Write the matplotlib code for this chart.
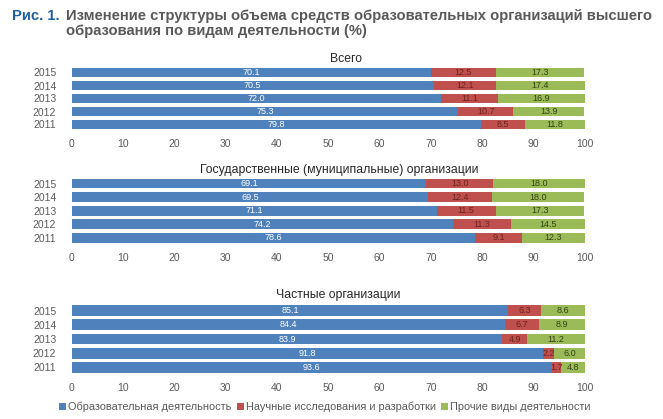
import numpy as np
import matplotlib
matplotlib.use('Agg')
import matplotlib.pyplot as plt

plt.rcParams['font.family'] = ['Liberation Sans', 'DejaVu Sans']

# Данные (по годам 2011..2015)
years = ['2011', '2012', '2013', '2014', '2015']
series_names = ['Образовательная деятельность', 'Научные исследования и разработки',
                'Прочие виды деятельности']

all_edu = [79.8, 75.3, 72.0, 70.5, 70.1]
all_sci = [8.5, 10.7, 11.1, 12.1, 12.5]
all_oth = [11.8, 13.9, 16.9, 17.4, 17.3]

gov_edu = [78.6, 74.2, 71.1, 69.5, 69.1]
gov_sci = [9.1, 11.3, 11.5, 12.4, 13.0]
gov_oth = [12.3, 14.5, 17.3, 18.0, 18.0]

priv_edu = [93.6, 91.8, 83.9, 84.4, 85.1]
priv_sci = [1.7, 2.2, 4.9, 6.7, 6.3]
priv_oth = [4.8, 6.0, 11.2, 8.9, 8.6]

panel_titles = ['Всего', 'Государственные (муниципальные) организации', 'Частные организации']
x_ticks = [0, 10, 20, 30, 40, 50, 60, 70, 80, 90, 100]

colors = ['#4F81BD', '#C0504D', '#9BBB59']
label_colors = ['white', '#6B2422', '#344414']
gray = '#595959'

W, H = 663, 419
fig = plt.figure(figsize=(W / 100, H / 100), dpi=100)


def px_axes(left, top, right, bottom):
    return fig.add_axes([left / W, 1 - bottom / H, (right - left) / W, (bottom - top) / H])


panels = [
    ((all_edu, all_sci, all_oth), (71.5, 66.0, 585.0, 131.0), 0.70, (346, 59)),
    ((gov_edu, gov_sci, gov_oth), (71.5, 176.7, 585.0, 244.8), 0.73, (339, 170)),
    ((priv_edu, priv_sci, priv_oth), (71.5, 303.4, 585.0, 374.6), 0.77, (338, 295)),
]

y = np.arange(len(years))
for (data, box, bar_h, title_pos), title in zip(panels, panel_titles):
    ax = px_axes(*box)
    left = np.zeros(len(years))
    for vals, c, lc, name in zip(data, colors, label_colors, series_names):
        bars = ax.barh(y, vals, left=left, height=bar_h, color=c, label=name)
        ax.bar_label(bars, labels=[f'{v:.1f}' for v in vals], label_type='center',
                     color=lc, fontsize=6.5)
        left = left + np.array(vals)
    ax.set_xlim(0, 100)
    ax.set_ylim(-0.5, len(years) - 0.5)
    ax.set_yticks(y)
    ax.set_yticklabels(years)
    ax.set_xticks(x_ticks)
    ax.tick_params(axis='both', length=0, labelsize=7.5, labelcolor=gray)
    ax.tick_params(axis='x', pad=6)
    ax.tick_params(axis='y', pad=11)
    for s in ax.spines.values():
        s.set_visible(False)
    fig.text(title_pos[0] / W, 1 - title_pos[1] / H, title, ha='center', va='center',
             fontsize=8.8, color='#262626')

handles, labels = ax.get_legend_handles_labels()
fig.legend(handles, labels, loc='center', bbox_to_anchor=(325 / W, 1 - 407 / H), ncol=3,
           frameon=False, fontsize=7.9, handlelength=0.6, handleheight=0.6,
           handletextpad=0.2, columnspacing=0.5, labelcolor=gray)

# Заголовок рисунка
fig.text(12 / W, 1 - 16 / H, 'Рис. 1.', ha='left', va='center', fontsize=10.6,
         fontweight='bold', color='#1F5F9F')
fig.text(66 / W, 1 - 16 / H, 'Изменение структуры объема средств образовательных организаций высшего',
         ha='left', va='center', fontsize=10.6, fontweight='bold', color=gray)
fig.text(66 / W, 1 - 31 / H, 'образования по видам деятельности (%)',
         ha='left', va='center', fontsize=10.6, fontweight='bold', color=gray)

fig.savefig('out.png', dpi=100)
